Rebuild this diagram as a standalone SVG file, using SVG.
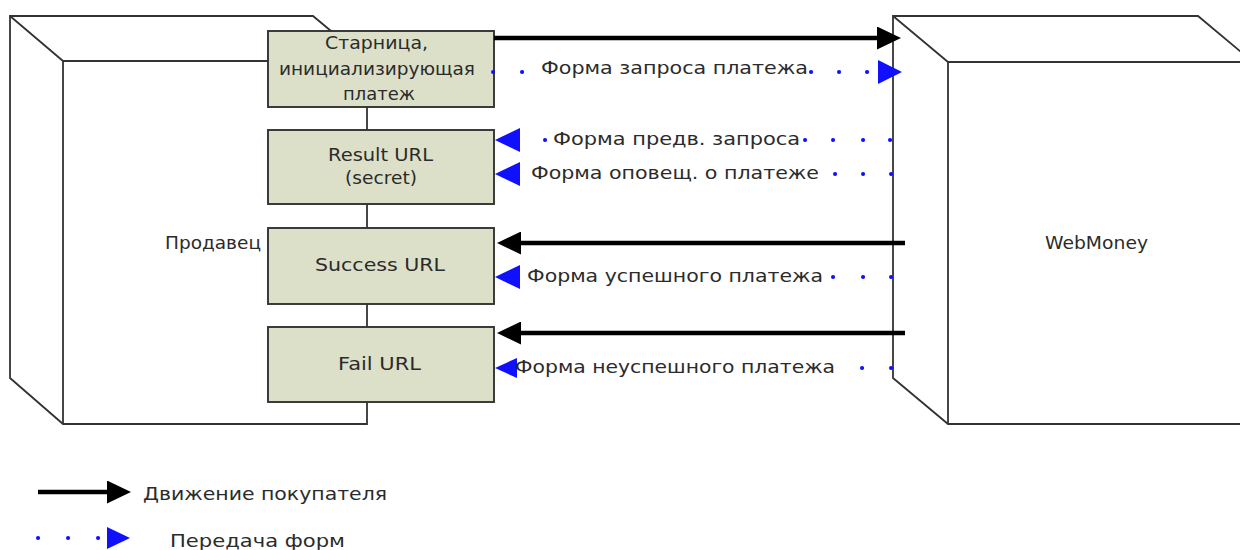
<svg xmlns="http://www.w3.org/2000/svg" width="1240" height="550" viewBox="0 0 1240 550">
<style>
.cube{fill:#fff;stroke:#333;stroke-width:1.8;stroke-linejoin:miter}
.edge{fill:none;stroke:#333;stroke-width:1.8}
.box{fill:#dce0c9;stroke:#333;stroke-width:1.9}
.t{font-family:"DejaVu Sans",Verdana,sans-serif;font-size:18px;fill:#2b2b2b}
.lbl{font-family:"DejaVu Sans",Verdana,sans-serif;font-size:17.5px;fill:#2b2b2b}
.move{fill:none;stroke:#000;stroke-width:4.5;marker-end:url(#ah)}
.dots{fill:none;stroke:#1010ff;stroke-width:4;stroke-linecap:round}
.bhead{fill:#1010ff}
</style>
<defs>
<marker id="ah" viewBox="0 0 24 23" refX="1" refY="11.5" markerWidth="24" markerHeight="23" markerUnits="userSpaceOnUse" orient="auto">
<path d="M0 0 L24 11.5 L0 23 Z" fill="#000"/>
</marker>
</defs>
<rect width="1240" height="550" fill="#fff"/>

<g id="seller">
<path class="cube" d="M10 16 H313 L367 61 V424 H63 L10 378 Z"/>
<path class="edge" d="M10 16 L63 61 V424 M63 61 H367"/>
<text class="t" x="165" y="249" textLength="96" lengthAdjust="spacingAndGlyphs">Продавец</text>
</g>

<g id="webmoney">
<path class="cube" d="M893 16 H1198 L1253 62 V424 H948 L893 378 Z"/>
<path class="edge" d="M893 16 L948 62 V424 M948 62 H1253"/>
<text class="t" x="1045" y="249" textLength="103" lengthAdjust="spacingAndGlyphs">WebMoney</text>
</g>

<g id="init-page">
<rect class="box" x="268" y="31" width="226" height="76"/>
<text class="t" x="325" y="49" textLength="103" lengthAdjust="spacingAndGlyphs">Старница,</text>
<text class="t" x="279" y="75" textLength="196" lengthAdjust="spacingAndGlyphs">инициализирующая</text>
<text class="t" x="343" y="100" textLength="72" lengthAdjust="spacingAndGlyphs">платеж</text>
</g>

<g id="result-url">
<rect class="box" x="268" y="130" width="226" height="74"/>
<text class="t" x="328" y="161" textLength="105" lengthAdjust="spacingAndGlyphs">Result URL</text>
<text class="t" x="345" y="184" textLength="72" lengthAdjust="spacingAndGlyphs">(secret)</text>
</g>

<g id="success-url">
<rect class="box" x="268" y="228" width="226" height="76"/>
<text class="t" x="315" y="271" textLength="130" lengthAdjust="spacingAndGlyphs">Success URL</text>
</g>

<g id="fail-url">
<rect class="box" x="268" y="327" width="226" height="75"/>
<text class="t" x="338" y="370" textLength="83" lengthAdjust="spacingAndGlyphs">Fail URL</text>
</g>

<g id="connectors">
<g id="c-start">
<path class="move" d="M494 38 H878"/>
</g>
<g id="c-request">
<path class="dots" d="M493 72h.1M522 72h.1M811 72h.1M839 72h.1M867 72h.1"/>
<polygon class="bhead" points="878,60 902,72 878,84"/>
<text class="lbl" x="541" y="74" textLength="267" lengthAdjust="spacingAndGlyphs">Форма запроса платежа</text>
</g>
<g id="c-prerequest">
<path class="dots" d="M545 140h.1M805 140h.1M833 140h.1M863 140h.1M890 140h.1"/>
<polygon class="bhead" points="520,128 495,140 520,152"/>
<text class="lbl" x="553" y="145" textLength="247" lengthAdjust="spacingAndGlyphs">Форма предв. запроса</text>
</g>
<g id="c-notify">
<path class="dots" d="M835 174h.1M863 174h.1M891 174h.1"/>
<polygon class="bhead" points="520,162 495,174 520,186"/>
<text class="lbl" x="531" y="179" textLength="288" lengthAdjust="spacingAndGlyphs">Форма оповещ. о платеже</text>
</g>
<g id="c-success-move">
<path class="move" d="M905 243 H520"/>
</g>
<g id="c-success-form">
<path class="dots" d="M833 277h.1M863 277h.1M891 277h.1"/>
<polygon class="bhead" points="520,265 495,277 520,289"/>
<text class="lbl" x="527" y="282" textLength="296" lengthAdjust="spacingAndGlyphs">Форма успешного платежа</text>
</g>
<g id="c-fail-move">
<path class="move" d="M905 333 H520"/>
</g>
<g id="c-fail-form">
<path class="dots" d="M862 368h.1M891 368h.1"/>
<polygon class="bhead" points="517,358 495,368 517,378"/>
<text class="lbl" x="515" y="373" textLength="320" lengthAdjust="spacingAndGlyphs">Форма неуспешного платежа</text>
</g>
</g>

<g id="legend">
<path class="move" d="M38 492 H108"/>
<text class="t" x="143" y="500" textLength="244" lengthAdjust="spacingAndGlyphs">Движение покупателя</text>
<path class="dots" d="M38 538h.1M68 538h.1M98 538h.1"/>
<polygon class="bhead" points="107,527 130,538 107,549"/>
<text class="t" x="170" y="547" textLength="175" lengthAdjust="spacingAndGlyphs">Передача форм</text>
</g>
</svg>
